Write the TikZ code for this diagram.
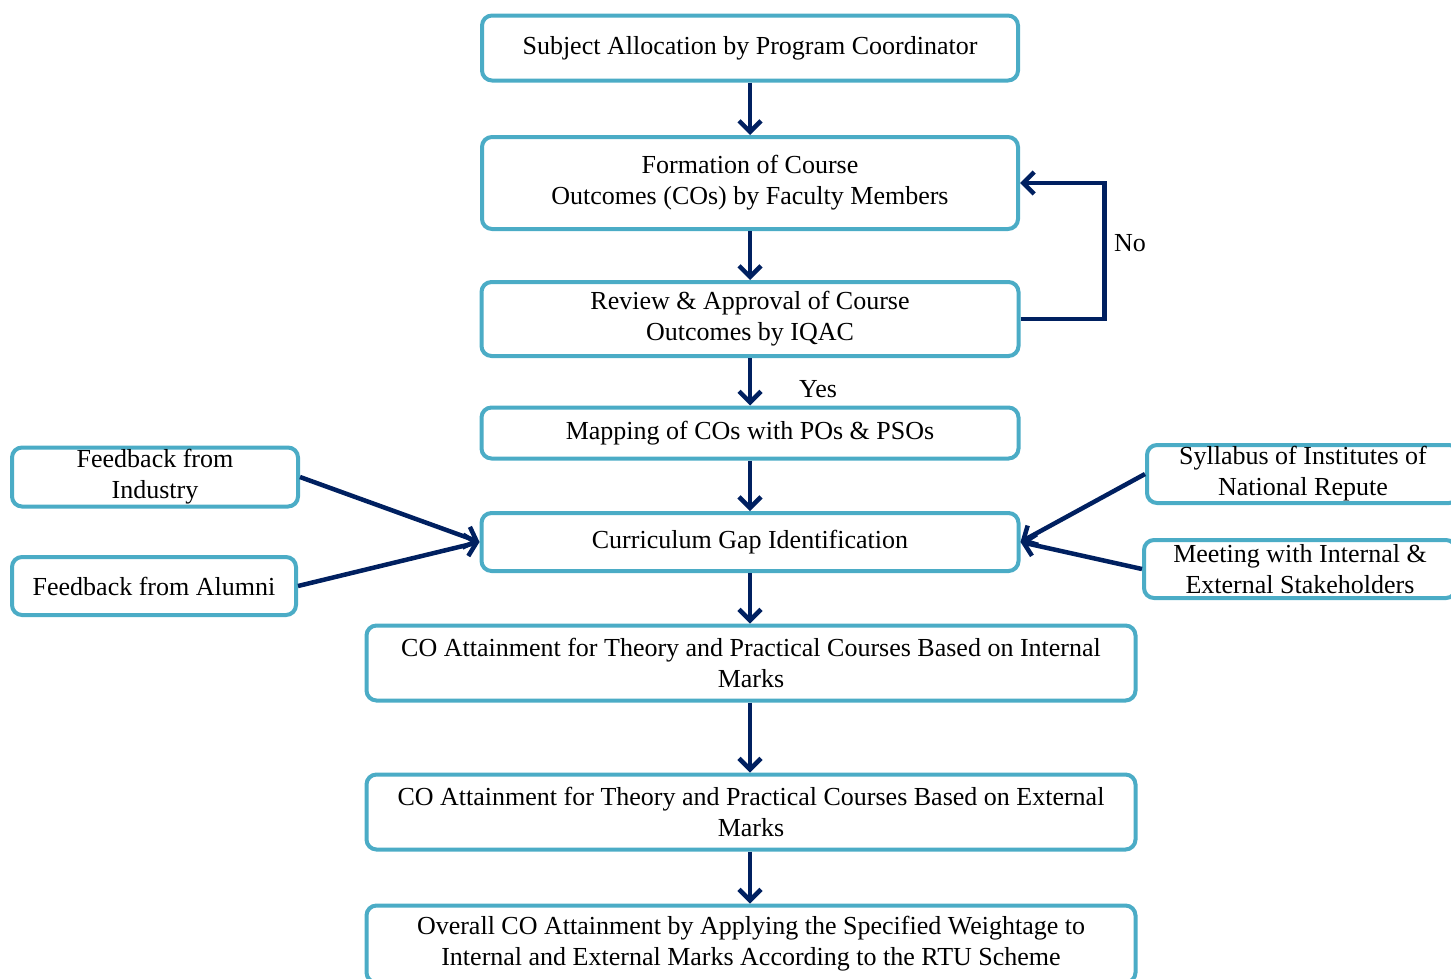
\documentclass[tikz,border=0pt]{standalone}
\usepackage{fontspec}
\setmainfont{Liberation Serif}
\usetikzlibrary{arrows.meta}
\definecolor{boxblue}{HTML}{4BACC6}
\definecolor{navy}{HTML}{002060}
\tikzset{
  stepbox/.style={shape=rectangle,draw=boxblue,line width=4pt,rounded corners=10pt,
    fill=white,align=center,inner sep=0pt,font=\fontsize{26}{31}\selectfont},
  arr/.style={draw=navy,line width=4.5pt,-{Straight Barb[length=11pt,width=22pt]}}
}
\begin{document}
\begin{tikzpicture}[x=1pt,y=-1pt]
\useasboundingbox (0,0) rectangle (1451,978);
\node[stepbox,minimum width=536pt,minimum height=65pt] (alloc) at (750,48) {Subject Allocation by Program Coordinator};
\node[stepbox,minimum width=536pt,minimum height=92pt] (form) at (750,183) {Formation of Course\\Outcomes (COs) by Faculty Members};
\node[stepbox,minimum width=537pt,minimum height=74pt] (review) at (750,319) {Review \& Approval of Course\\Outcomes by IQAC};
\node[stepbox,minimum width=537pt,minimum height=51pt] (map) at (750,433) {Mapping of COs with POs \& PSOs};
\node[stepbox,minimum width=537pt,minimum height=58pt] (gap) at (750,542) {Curriculum Gap Identification};
\node[stepbox,minimum width=769pt,minimum height=75pt] (intm) at (751,663) {CO Attainment for Theory and Practical Courses Based on Internal\\Marks};
\node[stepbox,minimum width=769pt,minimum height=75pt] (extm) at (751,812) {CO Attainment for Theory and Practical Courses Based on External\\Marks};
\node[stepbox,minimum width=769pt,minimum height=77pt] (overall) at (751,944) {Overall CO Attainment by Applying the Specified Weightage to\\Internal and External Marks According to the RTU Scheme};
\node[stepbox,minimum width=286pt,minimum height=59pt] (industry) at (155,477) {Feedback from\\Industry};
\node[stepbox,minimum width=284pt,minimum height=58pt] (alumni) at (154,586) {Feedback from Alumni};
\node[stepbox,minimum width=312pt,minimum height=58pt] (syllabus) at (1303,474) {Syllabus of Institutes of\\National Repute};
\node[stepbox,minimum width=312pt,minimum height=58pt] (meeting) at (1300,569) {Meeting with Internal \&\\External Stakeholders};
\node[font=\fontsize{26}{31}\selectfont] (yes) at (818,389) {Yes};

\draw[arr] (alloc) -- (form);
\draw[arr] (form) -- (review);
\draw[arr] (review) -- (map);
\draw[arr] (map) -- (gap);
\draw[arr] (gap.south) -- (intm.north -| gap.south);
\draw[arr] (intm.south -| gap.south) -- (extm.north -| gap.south);
\draw[arr] (extm.south -| gap.south) -- (overall.north -| gap.south);
\draw[arr] (review.east) -- ++(84,0) |- node[pos=0.28,right=4pt,text=black,font=\fontsize{26}{31}\selectfont] {No} (form.east);
\draw[arr] (industry.east) -- (gap.west);
\draw[arr] (alumni.east) -- (gap.west);
\draw[arr] (syllabus.west) -- (gap.east);
\draw[arr] (meeting.west) -- (gap.east);
\end{tikzpicture}
\end{document}
